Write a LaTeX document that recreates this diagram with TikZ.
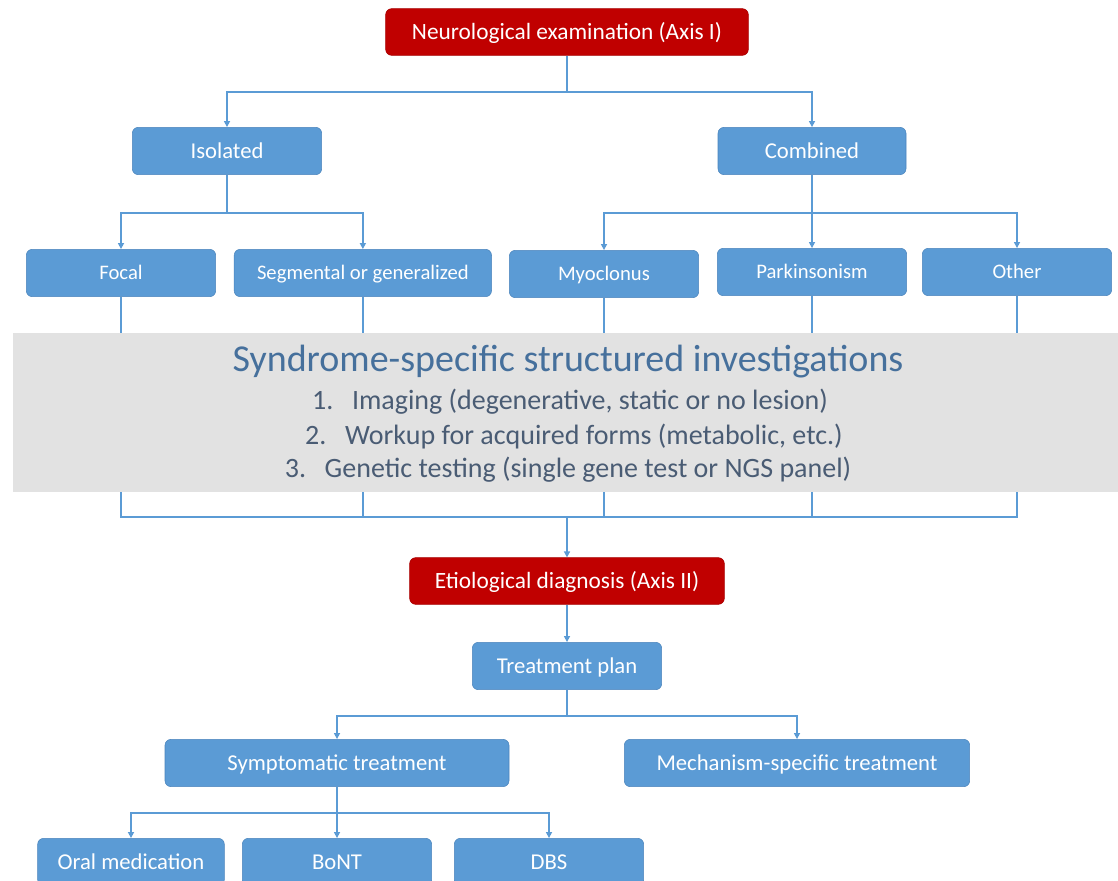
\documentclass[tikz,border=0pt]{standalone}
\usepackage{fontspec}
\setmainfont{Carlito}
\usepackage{tikz}
\usetikzlibrary{shapes,arrows.meta,positioning,calc,fit}

\definecolor{boxblue}{HTML}{5B9BD5}
\definecolor{boxedge}{HTML}{4A84BC}
\definecolor{axisred}{HTML}{C00000}
\definecolor{axisedge}{HTML}{A80000}
\definecolor{invgray}{HTML}{E2E2E2}
\definecolor{invtitle}{HTML}{46709C}
\definecolor{invtext}{HTML}{4A5C74}

\begin{document}
\begin{tikzpicture}[x=0.75pt, y=-0.75pt, >={Triangle[length=4.5pt,width=4.5pt]}]
  % styles
  \tikzstyle{axis}=[rectangle, draw=axisedge, fill=axisred, rounded corners=4.5pt, text=white, minimum height=35pt, inner sep=0pt, text height=11.3pt, text depth=0pt, font=\fontsize{17.5}{20}\selectfont];
  \tikzstyle{blk}=[rectangle, draw=boxedge, fill=boxblue, rounded corners=4.5pt, text=white, minimum height=35.5pt, inner sep=0pt, text height=11pt, text depth=0pt, font=\fontsize{17}{20}\selectfont];
  \tikzstyle{sub}=[blk, text height=10pt, font=\fontsize{15.5}{18}\selectfont];
  \tikzstyle{link}=[draw=boxblue, line width=1.5pt];

  \useasboundingbox (0,0) rectangle (1118,881);
  \clip (0,0) rectangle (1118,881);

  %==================== AXIS I ====================
  \node[axis, minimum width=272pt] (neuro) at (567,32) {Neurological examination (Axis I)};
  \node[blk, minimum width=142pt] (iso) at (227,151) {Isolated};
  \node[blk, minimum width=141pt] (comb) at (812,151) {Combined};
  % isolated forms
  \node[sub, minimum width=142pt] (focal) at (121,273) {Focal};
  \node[sub, minimum width=193pt, right=13.5pt of focal] (seg) {Segmental or generalized};
  % combined forms
  \node[sub, minimum width=142pt] (myo) at (604,274) {Myoclonus};
  \node[sub, minimum width=142pt] (park) at (812,272) {Parkinsonism};
  \node[sub, minimum width=142pt] (other) at (1017,272) {Other};

  % branch points
  \coordinate (splitI) at (567,92);
  \coordinate (splitiso) at (227,213);
  \coordinate (splitcomb) at (812,213);
  \coordinate (merge) at (567,517);

  % arrows
  \draw[link] (neuro.south) -- (splitI);
  \draw[link, ->] (splitI) -| (iso.north);
  \draw[link, ->] (splitI) -| (comb.north);
  \draw[link] (iso.south) -- (splitiso);
  \draw[link, ->] (splitiso) -| (focal.north);
  \draw[link, ->] (splitiso) -| (seg.north);
  \draw[link] (comb.south) -- (splitcomb);
  \draw[link, ->] (splitcomb) -| (myo.north);
  \draw[link, ->] (splitcomb) -- (park.north);
  \draw[link, ->] (splitcomb) -| (other.north);
  % all syndromes join below the investigations
  \draw[link] (focal.south) |- (merge);
  \draw[link] (seg.south) |- (merge);
  \draw[link] (myo.south) |- (merge);
  \draw[link] (park.south) |- (merge);
  \draw[link] (other.south) |- (merge);

  %==================== INVESTIGATIONS ====================
  \node[rectangle, fill=invgray, minimum width=830pt, minimum height=119pt, inner sep=0pt] (invest) at (566,412.5) {};
  \node[text=invtitle, font=\fontsize{28.5}{32}\selectfont] (invtit) at (568,362) {Syndrome-specific structured investigations};
  \node[text=invtext, font=\fontsize{21}{24}\selectfont] (inv1) at (570,402) {1.\hspace{14pt}Imaging (degenerative, static or no lesion)};
  \node[text=invtext, font=\fontsize{21}{24}\selectfont] (inv2) at (574,437) {2.\hspace{14pt}Workup for acquired forms (metabolic, etc.)};
  \node[text=invtext, font=\fontsize{21}{24}\selectfont] (inv3) at (568,470) {3.\hspace{14pt}Genetic testing (single gene test or NGS panel)};

  %==================== AXIS II ====================
  \node[axis, minimum width=236pt] (etio) at (567,581) {Etiological diagnosis (Axis II)};
  \node[blk, minimum width=142pt] (plan) at (567,666) {Treatment plan};
  \node[blk, minimum width=258pt] (sym) at (337,763) {Symptomatic treatment};
  \node[blk, minimum width=259pt] (mech) at (797,763) {Mechanism-specific treatment};
  % symptomatic options
  \node[blk, minimum width=140pt] (oral) at (131,862) {Oral medication};
  \node[blk, minimum width=142pt] (bont) at (337,862) {BoNT};
  \node[blk, minimum width=142pt] (dbs) at (549,862) {DBS};

  \coordinate (splitplan) at (567,716);
  \coordinate (splitsym) at (337,813);

  \draw[link, ->] (merge) -- (etio.north);
  \draw[link, ->] (etio.south) -- (plan.north);
  \draw[link] (plan.south) -- (splitplan);
  \draw[link, ->] (splitplan) -| (sym.north);
  \draw[link, ->] (splitplan) -| (mech.north);
  \draw[link] (sym.south) -- (splitsym);
  \draw[link, ->] (splitsym) -| (oral.north);
  \draw[link, ->] (splitsym) -- (bont.north);
  \draw[link, ->] (splitsym) -| (dbs.north);
\end{tikzpicture}
\end{document}
